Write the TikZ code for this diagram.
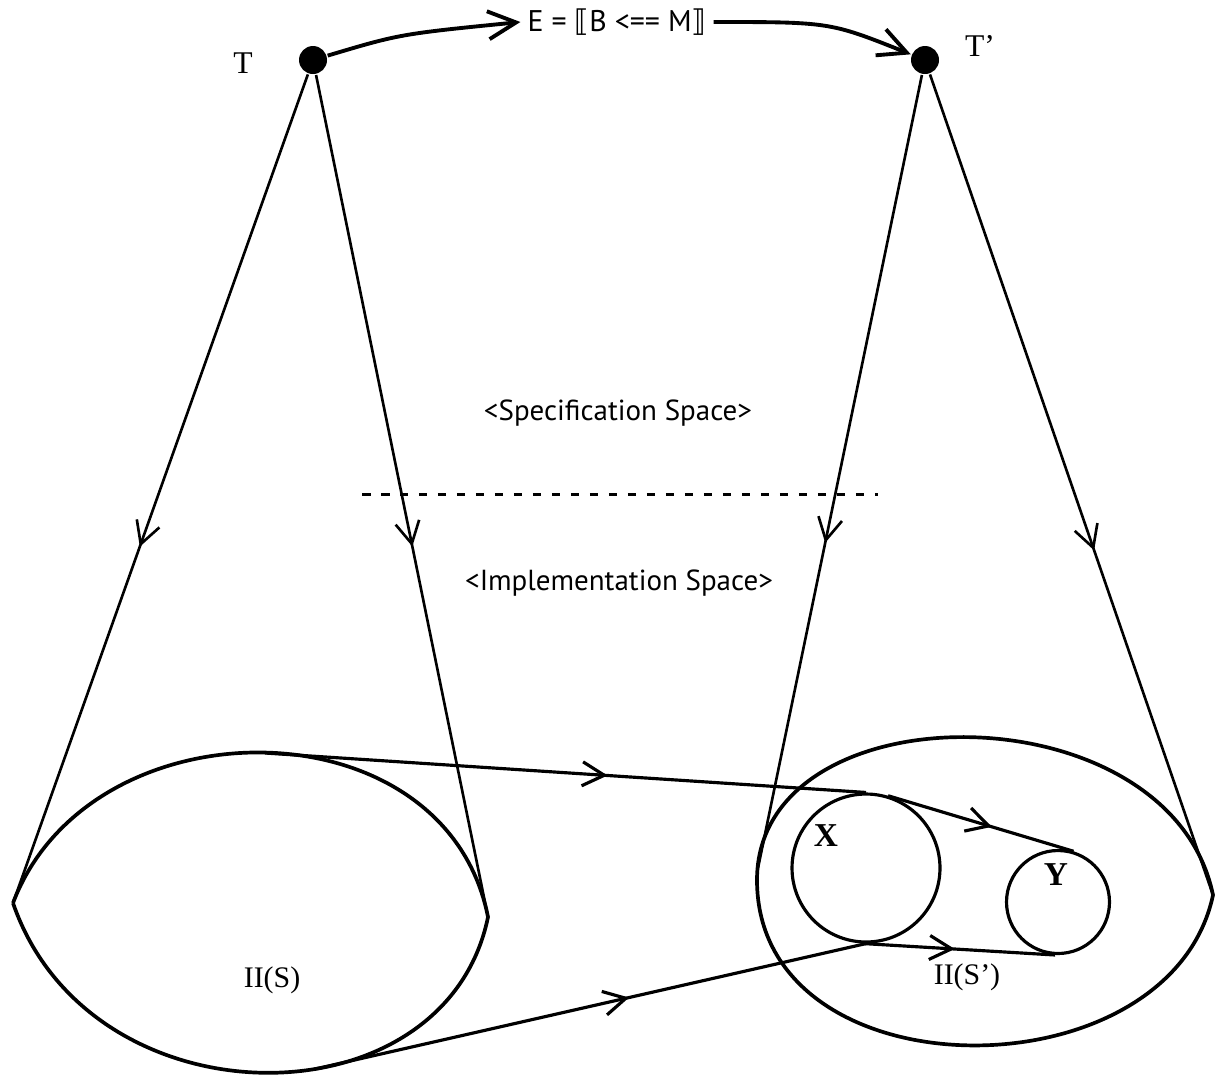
\documentclass[tikz,border=0pt]{standalone}
\usepackage{fontspec}
\setmainfont{Liberation Serif}
\setsansfont{PT Sans}
\newfontfamily\bracketfont{DejaVu Sans}
\usetikzlibrary{arrows.meta,decorations.markings}

\tikzset{
  dot/.style={circle,fill=black,inner sep=0pt,minimum width=0.52cm,minimum height=0.56cm},
  barb/.style={-{Straight Barb[length=5.6mm,width=5.6mm]}},
  midarrow/.style={postaction={decorate},decoration={markings,
    mark=at position #1 with {\arrow{Straight Barb[length=4.4mm,width=4.8mm]}}}},
  ring/.style={draw,circle,inner sep=0pt,line width=1.8pt},
  sanslabel/.style={font=\sffamily\fontsize{16.5}{19}\selectfont},
  seriflabel/.style={font=\fontsize{18}{20}\selectfont},
  boldlabel/.style={font=\bfseries\fontsize{19}{21}\selectfont},
}

\begin{document}
\begin{tikzpicture}[x=0.02cm,y=-0.02cm,line width=1.5pt]
\useasboundingbox (0,0) rectangle (1216,1076);

\node[dot] (T) at (313,60) {};
\node[dot] (Tp) at (925,60) {};
\node[seriflabel] at (243,63) {T};
\node[seriflabel] at (980,46) {T'};
\node[sanslabel,font=\sffamily\fontsize{17}{19}\selectfont] (E) at (617,22) {E = {\bracketfont ⟦}B <== M{\bracketfont ⟧}};
\draw[barb,line width=2.2pt] (T) .. controls (400,34) .. (E.west);
\draw[barb,line width=2.2pt] (E.east) .. controls (830,22) .. (Tp);

\coordinate (lensL) at (13,903);
\coordinate (lensR) at (488,917);
\coordinate (lensTop) at (265,753);
\coordinate (lensBot) at (315,1069);
\draw[line width=2.1pt] (lensL) .. controls (90,700) and (445,700) .. (lensR)
  .. controls (445,1127) and (90,1127) .. (lensL);
\coordinate (ovalL) at (757,880);
\coordinate (ovalR) at (1213,895);
\coordinate (ovalTan) at (758,868);
\draw[line width=2.1pt] (ovalL) .. controls (757,687) and (1170,687) .. (ovalR)
  .. controls (1170,1098) and (757,1098) .. (ovalL);

\draw[midarrow=0.57] (T) -- (lensL);
\draw[midarrow=0.56] (T) -- (lensR);
\draw[midarrow=0.59] (Tp) -- (ovalTan);
\draw[midarrow=0.58] (Tp) -- (ovalR);

\coordinate (dashL) at (362,494);
\coordinate (dashR) at (878,494);
\draw[line width=1.7pt,dash pattern=on 0.17cm off 0.21cm] (dashL) -- (dashR);
\node[sanslabel] at (618,413) {<Specification Space>};
\node[sanslabel] at (619,583) {<Implementation Space>};

\node[ring,minimum size=2.96cm] (cX) at (866,868) {};
\node[ring,minimum size=2.06cm] (cY) at (1058,902) {};
\node[boldlabel] at (826,836) {X};
\node[boldlabel] at (1056,875) {Y};
\node[seriflabel,font=\fontsize{17}{19}\selectfont] at (272,980) {II(S)};
\node[seriflabel,font=\fontsize{17}{19}\selectfont] at (967,977) {II(S')};

\draw[midarrow=0.57,line width=1.8pt] (lensTop) -- (cX.north);
\draw[midarrow=0.56,line width=1.8pt] (cX.73.5) -- (cY.73.5);
\draw[midarrow=0.57,line width=1.8pt] (lensBot) -- (cX.south);
\draw[midarrow=0.48,line width=1.8pt] (cX.-93) -- (cY.-93);
\end{tikzpicture}
\end{document}
